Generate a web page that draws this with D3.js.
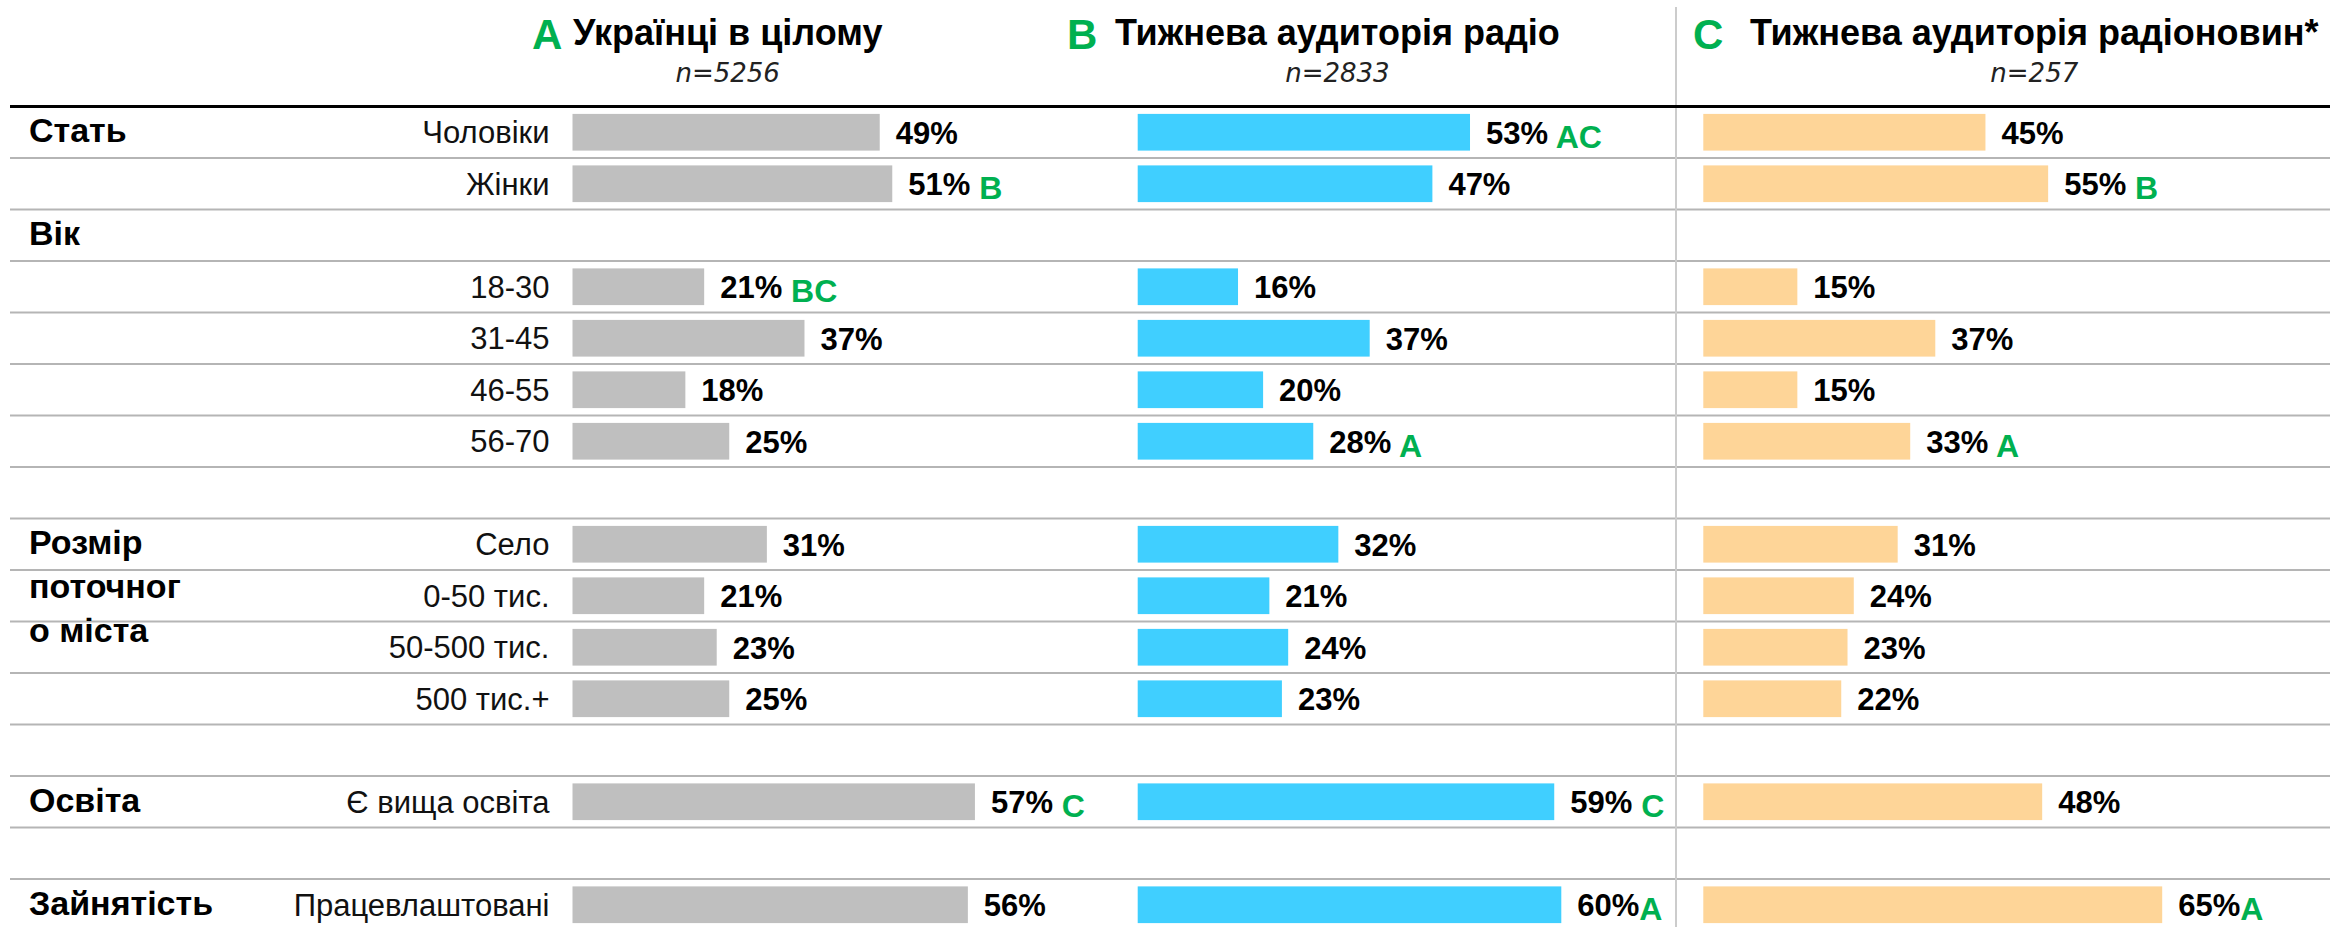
<html>
<head>
<meta charset="utf-8">
<title>Аудиторія радіо</title>
<script src="https://d3js.org/d3.v7.min.js"></script>
<style>
body { margin: 0; background: #fff; }
text { font-family: "Liberation Sans", Arial, sans-serif; }
</style>
</head>
<body>
<div id="chart"></div>
<script>
// data
var categories = ["Чоловіки", "Жінки", "18-30", "31-45", "46-55", "56-70",
    "Село", "0-50 тис.", "50-500 тис.", "500 тис.+", "Є вища освіта", "Працевлаштовані"];
var valuesA = [49, 51, 21, 37, 18, 25, 31, 21, 23, 25, 57, 56];
var valuesB = [53, 47, 16, 37, 20, 28, 32, 21, 24, 23, 59, 60];
var valuesC = [45, 55, 15, 37, 15, 33, 31, 24, 23, 22, 48, 65];
// significance letters (leading space = gap after the value)
var sigA = ["", " B", " BC", "", "", "", "", "", "", "", " C", ""];
var sigB = [" AC", "", "", "", "", " A", "", "", "", "", " C", "A"];
var sigC = ["", " B", "", "", "", " A", "", "", "", "", "", "A"];
var sections = [["Стать"], ["Вік"], ["Розмір", "поточног", "о міста"], ["Освіта"], ["Зайнятість"]];
var sectionOf = [0, 0, 1, 1, 1, 1, 2, 2, 2, 2, 3, 4];
var letters = ["A", "B", "C"];
var titles = ["Українці в цілому", "Тижнева аудиторія радіо", "Тижнева аудиторія радіоновин*"];
var sampleSizes = ["n=5256", "n=2833", "n=257"];

// layout
var width = 2330, height = 927;
var rowSlot = [0, 1, 3, 4, 5, 6, 8, 9, 10, 11, 13, 15];
var sectionSlot = [0, 2, 8, 13, 15];
var sectionScale = [0, 0, 0, 1, 1];
var colX = [572.5, 1137.7, 1703.3];
var letterX = [532, 1067, 1693];
var titleX = [573, 1115, 1750];
var colors = ["#bfbfbf", "#40cfff", "#fed598"];
var green = "#00b050";

var rows = d3.scaleBand().domain(d3.range(16)).range([106.5, 106.5 + 16 * 51.5]);
var bw = rows.bandwidth();
var barH = 36.7;
var xs = [d3.scaleLinear().domain([0, 100]).range([0, 627]),
          d3.scaleLinear().domain([0, 100]).range([0, 706])];

var svg = d3.select("#chart").append("svg")
    .attr("width", width)
    .attr("height", height);

// row separators
svg.selectAll("line.sep").data(d3.range(1, 16)).enter().append("line")
    .attr("class", "sep")
    .attr("x1", 10).attr("x2", width)
    .attr("y1", function(d) { return rows(d); })
    .attr("y2", function(d) { return rows(d); })
    .attr("stroke", "#b5b5b5")
    .attr("stroke-width", 2);

svg.append("line")
    .attr("x1", 1676).attr("x2", 1676)
    .attr("y1", 7).attr("y2", height)
    .attr("stroke", "#cccccc")
    .attr("stroke-width", 2);

svg.append("line")
    .attr("x1", 10).attr("x2", width)
    .attr("y1", rows(0)).attr("y2", rows(0))
    .attr("stroke", "#000")
    .attr("stroke-width", 3);

// headers
letters.forEach(function(l, i) {
    svg.append("text")
        .attr("x", letterX[i]).attr("y", 49)
        .style("font-size", "42px").style("font-weight", 700)
        .style("fill", green)
        .text(l);
    var t = svg.append("text")
        .attr("x", titleX[i]).attr("y", 45)
        .style("font-size", "36px").style("font-weight", 700)
        .style("fill", "#000")
        .text(titles[i]);
    var w = t.node().getComputedTextLength();
    svg.append("text")
        .attr("x", titleX[i] + w / 2).attr("y", 82)
        .attr("text-anchor", "middle")
        .style("font-family", "'DejaVu Sans', sans-serif")
        .style("font-style", "italic")
        .style("font-size", "26px")
        .style("fill", "#222")
        .text(sampleSizes[i]);
});

// section labels
sections.forEach(function(lines, s) {
    var t = svg.append("text")
        .attr("x", 29)
        .attr("y", rows(sectionSlot[s]) + bw / 2 + 10)
        .style("font-size", "34px").style("font-weight", 700)
        .style("fill", "#000");
    lines.forEach(function(line, k) {
        t.append("tspan").attr("x", 29).attr("dy", k == 0 ? 0 : 44).text(line);
    });
});

// category labels
svg.selectAll("text.cat").data(categories).enter().append("text")
    .attr("class", "cat")
    .attr("x", 549.5)
    .attr("y", function(d, j) { return rows(rowSlot[j]) + bw / 2 + 11; })
    .attr("text-anchor", "end")
    .style("font-size", "31px")
    .style("fill", "#111")
    .text(function(d) { return d; });

// bars
var series = [valuesA, valuesB, valuesC];
var sigs = [sigA, sigB, sigC];

series.forEach(function(vals, i) {
    var data = vals.map(function(v, j) {
        return { v: v, sig: sigs[i][j], slot: rowSlot[j], x: xs[sectionScale[sectionOf[j]]] };
    });
    var g = svg.append("g").attr("transform", "translate(" + colX[i] + ",0)");

    g.selectAll("rect").data(data).enter().append("rect")
        .attr("x", 0)
        .attr("y", function(d) { return rows(d.slot) + (bw - barH) / 2; })
        .attr("width", function(d) { return d.x(d.v); })
        .attr("height", barH)
        .attr("fill", colors[i]);

    var lab = g.selectAll("text").data(data).enter().append("text")
        .attr("x", function(d) { return d.x(d.v) + 16; })
        .attr("y", function(d) { return rows(d.slot) + bw / 2 + 11.5; })
        .style("font-size", "31px").style("font-weight", 700)
        .style("white-space", "pre")
        .style("fill", "#000");
    lab.append("tspan").text(function(d) { return d.v + "%"; });
    lab.filter(function(d) { return d.sig != ""; })
        .append("tspan")
        .attr("dy", 4)
        .style("fill", green)
        .style("font-size", "32px")
        .text(function(d) { return d.sig; });
});
</script>
</body>
</html>
